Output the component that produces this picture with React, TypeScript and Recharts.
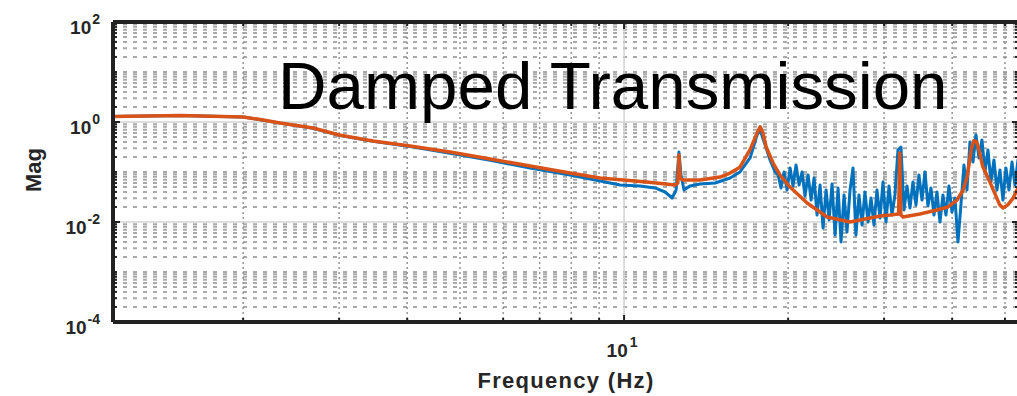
import React from 'react';
import { ComposedChart, Line, XAxis, YAxis, CartesianGrid, Label } from 'recharts';

// Measured transmission (blue)
const freqMeasured = [1.154, 1.532, 2.0, 2.15, 2.338, 2.688, 3.0, 3.463, 4.05, 4.794, 5.68, 6.722, 7.958, 9.036, 9.83, 10.7, 11.4, 11.89, 12.25, 12.46, 12.61, 12.72, 12.88, 13.21, 13.78, 14.69, 15.65, 16.32, 17.03, 17.54, 17.77, 18.15, 18.53, 18.93,
  19.17, 19.41, 19.66, 19.91, 20.17, 20.42, 20.68, 20.95, 21.21, 21.48, 21.76, 22.04, 22.32, 22.6, 22.89, 23.18, 23.48, 23.78, 24.08, 24.39,
  24.7, 25.01, 25.33, 25.65, 25.98, 26.31, 26.64, 26.98, 27.33, 27.67, 28.03, 28.39, 28.75, 29.11, 29.49, 29.86, 30.24, 30.63, 31.02, 31.41,
  31.81, 32.22, 32.63, 33.05, 33.47, 33.89, 34.33, 34.76, 35.21, 35.66, 36.11, 36.57, 37.04, 37.51, 37.99, 38.47, 38.96, 39.46, 39.96, 40.47,
  40.99, 41.51, 42.04, 42.58, 43.12, 43.67, 44.23, 44.79, 45.36, 45.94, 46.53, 47.12, 47.72, 48.33, 48.95, 49.57, 50.2, 50.85, 51.5, 52.15,
  52.82, 53.49];
const magMeasured = [1.29, 1.35, 1.26, 1.11, 0.95, 0.75, 0.54, 0.41, 0.322, 0.238, 0.172, 0.12, 0.0871, 0.0661, 0.055, 0.0525, 0.0479, 0.0398, 0.0302, 0.0437, 0.251, 0.0871, 0.0437, 0.0525, 0.0575, 0.0603, 0.0759, 0.1, 0.191, 0.55, 0.692, 0.347, 0.174, 0.1,
  0.0871, 0.0479, 0.1, 0.0437, 0.12, 0.0525, 0.138, 0.055, 0.1, 0.0331, 0.0871, 0.0275, 0.0759, 0.0138, 0.055, 0.00759, 0.0437, 0.011, 0.0575, 0.0055,
  0.0479, 0.00398, 0.0347, 0.00631, 0.0437, 0.12, 0.0055, 0.0347, 0.00871, 0.0398, 0.01, 0.0302, 0.00871, 0.0437, 0.012, 0.0631, 0.01, 0.0525, 0.0138, 0.0347,
  0.275, 0.316, 0.0174, 0.0525, 0.0191, 0.0631, 0.0219, 0.0871, 0.0275, 0.1, 0.0209, 0.0479, 0.0138, 0.0398, 0.01, 0.0347, 0.0138, 0.0525, 0.0158, 0.0302,
  0.00398, 0.0219, 0.138, 0.0437, 0.398, 0.158, 0.55, 0.191, 0.437, 0.1, 0.275, 0.0631, 0.174, 0.0437, 0.11, 0.0275, 0.12, 0.0437, 0.158, 0.055,
  0.174, 0.0692];

// Model fit (orange)
const freqModel = [1.154, 1.532, 2.0, 2.15, 2.338, 2.688, 3.0, 3.463, 4.05, 4.794, 5.68, 6.722, 7.96, 9.036, 11.0, 12.41, 12.55, 12.61, 12.68, 12.83, 13.78, 15.0, 15.65, 16.32, 17.03, 17.54, 17.77, 17.99, 18.23, 18.77, 19.33, 20.16, 21.67, 23.58, 25.98, 28.28, 29.49, 30.78, 31.9, 32.05, 32.2, 32.5, 34.9, 37.52, 39.3, 40.83, 41.9, 42.6, 43.4, 43.8, 44.3, 44.8, 45.5, 47.0, 48.9, 49.6, 50.6, 51.75, 52.6, 54.5];
const magModel = [1.29, 1.35, 1.26, 1.12, 0.955, 0.759, 0.55, 0.417, 0.331, 0.251, 0.182, 0.132, 0.0955, 0.0759, 0.063, 0.055, 0.06, 0.219, 0.075, 0.0692, 0.0692, 0.0794, 0.095, 0.125, 0.28, 0.6, 0.8, 0.6, 0.316, 0.151, 0.087, 0.05, 0.024, 0.0126, 0.01, 0.012, 0.0132, 0.0138, 0.0145, 0.24, 0.014, 0.0126, 0.0145, 0.0174, 0.02, 0.0275, 0.0437, 0.0794, 0.3, 0.42, 0.41, 0.28, 0.13, 0.06, 0.022, 0.019, 0.022, 0.03, 0.044, 0.08];

// Axes
const xDomain = [1.154, 53.05];
const yDomain = [1e-4, 1e2];
const xMajorTicks = [10];
const xMinorTicks = [2, 3, 4, 5, 6, 7, 8, 9, 20, 30, 40, 50];
const yMajorTicks = [1e-4, 1e-2, 1, 1e2];
const yOddDecades = [1e-3, 1e-1, 10];
const yDecades = [1e-4, 1e-3, 1e-2, 1e-1, 1, 10];
const minorMultipliers = [2, 3, 4, 5, 6, 7, 8, 9];
const yMinorTicks = [...yOddDecades, ...yDecades.flatMap((d) => minorMultipliers.map((m) => m * d))];

const measuredData = freqMeasured.map((f, i) => ({ f, m: magMeasured[i] }));
const modelData = freqModel.map((f, i) => ({ f, m: magModel[i] }));

const TEXT = '#262626';
const FONT = '"Liberation Sans", Arial, Helvetica, sans-serif';
const AXIS = '#222222';

const isMajor = (v: number, list: number[]) => list.some((t) => Math.abs(t - v) / t < 1e-6);
const expOf = (v: number) => String(Math.round(Math.log10(v)));

const LeftTick = (props: any) => {
  const { x, y, payload } = props;
  const v = payload.value;
  const major = isMajor(v, yMajorTicks);
  return (
    <g>
      <line x1={x} x2={x + (major ? 7 : 4)} y1={y} y2={y} stroke={AXIS} strokeWidth={2} />
      {major && (
        <text x={x - 13} y={y + 12} textAnchor="end" fontFamily={FONT} fontWeight="bold" fontSize={19} fill={TEXT}>
          <tspan>10</tspan>
          <tspan dx={1} dy={-10} fontSize={14}>{expOf(v)}</tspan>
        </text>
      )}
    </g>
  );
};

const RightTick = (props: any) => {
  const { x, y, payload } = props;
  const major = isMajor(payload.value, yMajorTicks);
  return <line x1={x} x2={x - (major ? 7 : 4)} y1={y} y2={y} stroke={AXIS} strokeWidth={2} />;
};

const BottomTick = (props: any) => {
  const { x, y, payload } = props;
  const v = payload.value;
  const major = isMajor(v, xMajorTicks);
  return (
    <g>
      <line x1={x} x2={x} y1={y} y2={y - (major ? 7 : 4)} stroke={AXIS} strokeWidth={2} />
      {major && (
        <text x={x - 2} y={y + 35} textAnchor="middle" fontFamily={FONT} fontWeight="bold" fontSize={19} fill={TEXT}>
          <tspan>10</tspan>
          <tspan dx={2} dy={-10} fontSize={14}>{expOf(v)}</tspan>
        </text>
      )}
    </g>
  );
};

const TopTick = (props: any) => {
  const { x, y, payload } = props;
  const major = isMajor(payload.value, xMajorTicks);
  return <line x1={x} x2={x} y1={y} y2={y + (major ? 7 : 4)} stroke={AXIS} strokeWidth={2} />;
};

const MagLabel = (props: any) => {
  const vb = props.viewBox || { x: 0, y: 22, width: 113, height: 300 };
  const cx = vb.x + 41;
  const cy = vb.y + vb.height / 2 - 2;
  return (
    <text x={cx} y={cy} transform={`rotate(-90 ${cx} ${cy})`} textAnchor="middle" fontFamily={FONT} fontWeight="bold" fontSize={22} fill={TEXT}>
      Mag
    </text>
  );
};

const FreqLabel = (props: any) => {
  const vb = props.viewBox || { x: 113, y: 322, width: 906, height: 74 };
  return (
    <text x={vb.x + vb.width / 2} y={vb.y + 66} textAnchor="middle" fontFamily={FONT} fontWeight="bold" fontSize={22} letterSpacing={1.3} fill={TEXT}>
      Frequency (Hz)
    </text>
  );
};

export default function App() {
  return (
    <div style={{ position: 'absolute', left: 0, top: 0, width: 1030, height: 396 }}>
      <ComposedChart width={1030} height={396} margin={{ top: 0, right: 0, bottom: 0, left: 0 }}>
        <CartesianGrid
          horizontal={true}
          vertical={false}
          horizontalValues={yMinorTicks}
          stroke="#a9a9a9"
          strokeWidth={2}
          strokeDasharray="4 6"
        />
        <CartesianGrid
          horizontal={false}
          vertical={true}
          verticalValues={xMinorTicks}
          stroke="#959595"
          strokeWidth={1.5}
          strokeDasharray="2 3"
        />
        <CartesianGrid
          horizontal={true}
          vertical={true}
          horizontalValues={yMajorTicks}
          verticalValues={xMajorTicks}
          stroke="#d3d3d3"
          strokeWidth={1.5}
        />
        <XAxis
          xAxisId={0}
          dataKey="f"
          type="number"
          scale="log"
          domain={xDomain}
          allowDataOverflow
          ticks={[...xMinorTicks, ...xMajorTicks]}
          interval={0}
          height={74}
          tickSize={0}
          tickMargin={0}
          tickLine={false}
          tick={<BottomTick />}
          axisLine={{ stroke: AXIS, strokeWidth: 4 }}
        >
          <Label content={<FreqLabel />} />
        </XAxis>
        <XAxis
          xAxisId="top"
          orientation="top"
          dataKey="f"
          type="number"
          scale="log"
          domain={xDomain}
          allowDataOverflow
          ticks={[...xMinorTicks, ...xMajorTicks]}
          interval={0}
          height={22}
          tickSize={0}
          tickMargin={0}
          tickLine={false}
          tick={<TopTick />}
          axisLine={{ stroke: AXIS, strokeWidth: 4 }}
        />
        <YAxis
          yAxisId={0}
          type="number"
          scale="log"
          domain={yDomain}
          allowDataOverflow
          ticks={[...yMajorTicks, ...yMinorTicks]}
          interval={0}
          width={113}
          tickSize={0}
          tickMargin={0}
          tickLine={false}
          tick={<LeftTick />}
          axisLine={{ stroke: AXIS, strokeWidth: 4 }}
        >
          <Label content={<MagLabel />} />
        </YAxis>
        <YAxis
          yAxisId="right"
          orientation="right"
          type="number"
          scale="log"
          domain={yDomain}
          allowDataOverflow
          ticks={[...yMajorTicks, ...yMinorTicks]}
          interval={0}
          width={11}
          tickSize={0}
          tickMargin={0}
          tickLine={false}
          tick={<RightTick />}
          axisLine={{ stroke: AXIS, strokeWidth: 4 }}
        />
        <Line
          data={measuredData}
          dataKey="m"
          type="linear"
          stroke="#0072BD"
          strokeWidth={3}
          strokeLinejoin="round"
          dot={false}
          isAnimationActive={false}
        />
        <Line
          data={modelData}
          dataKey="m"
          type="linear"
          stroke="#D95319"
          strokeWidth={3.5}
          strokeLinejoin="round"
          dot={false}
          isAnimationActive={false}
        />
      </ComposedChart>
      <svg width={1030} height={396} style={{ position: 'absolute', left: 0, top: 0, pointerEvents: 'none' }}>
        <text x={278} y={108.5} fontFamily={FONT} fontSize={67.3} fill="#000000">
          Damped Transmission
        </text>
      </svg>
    </div>
  );
}
